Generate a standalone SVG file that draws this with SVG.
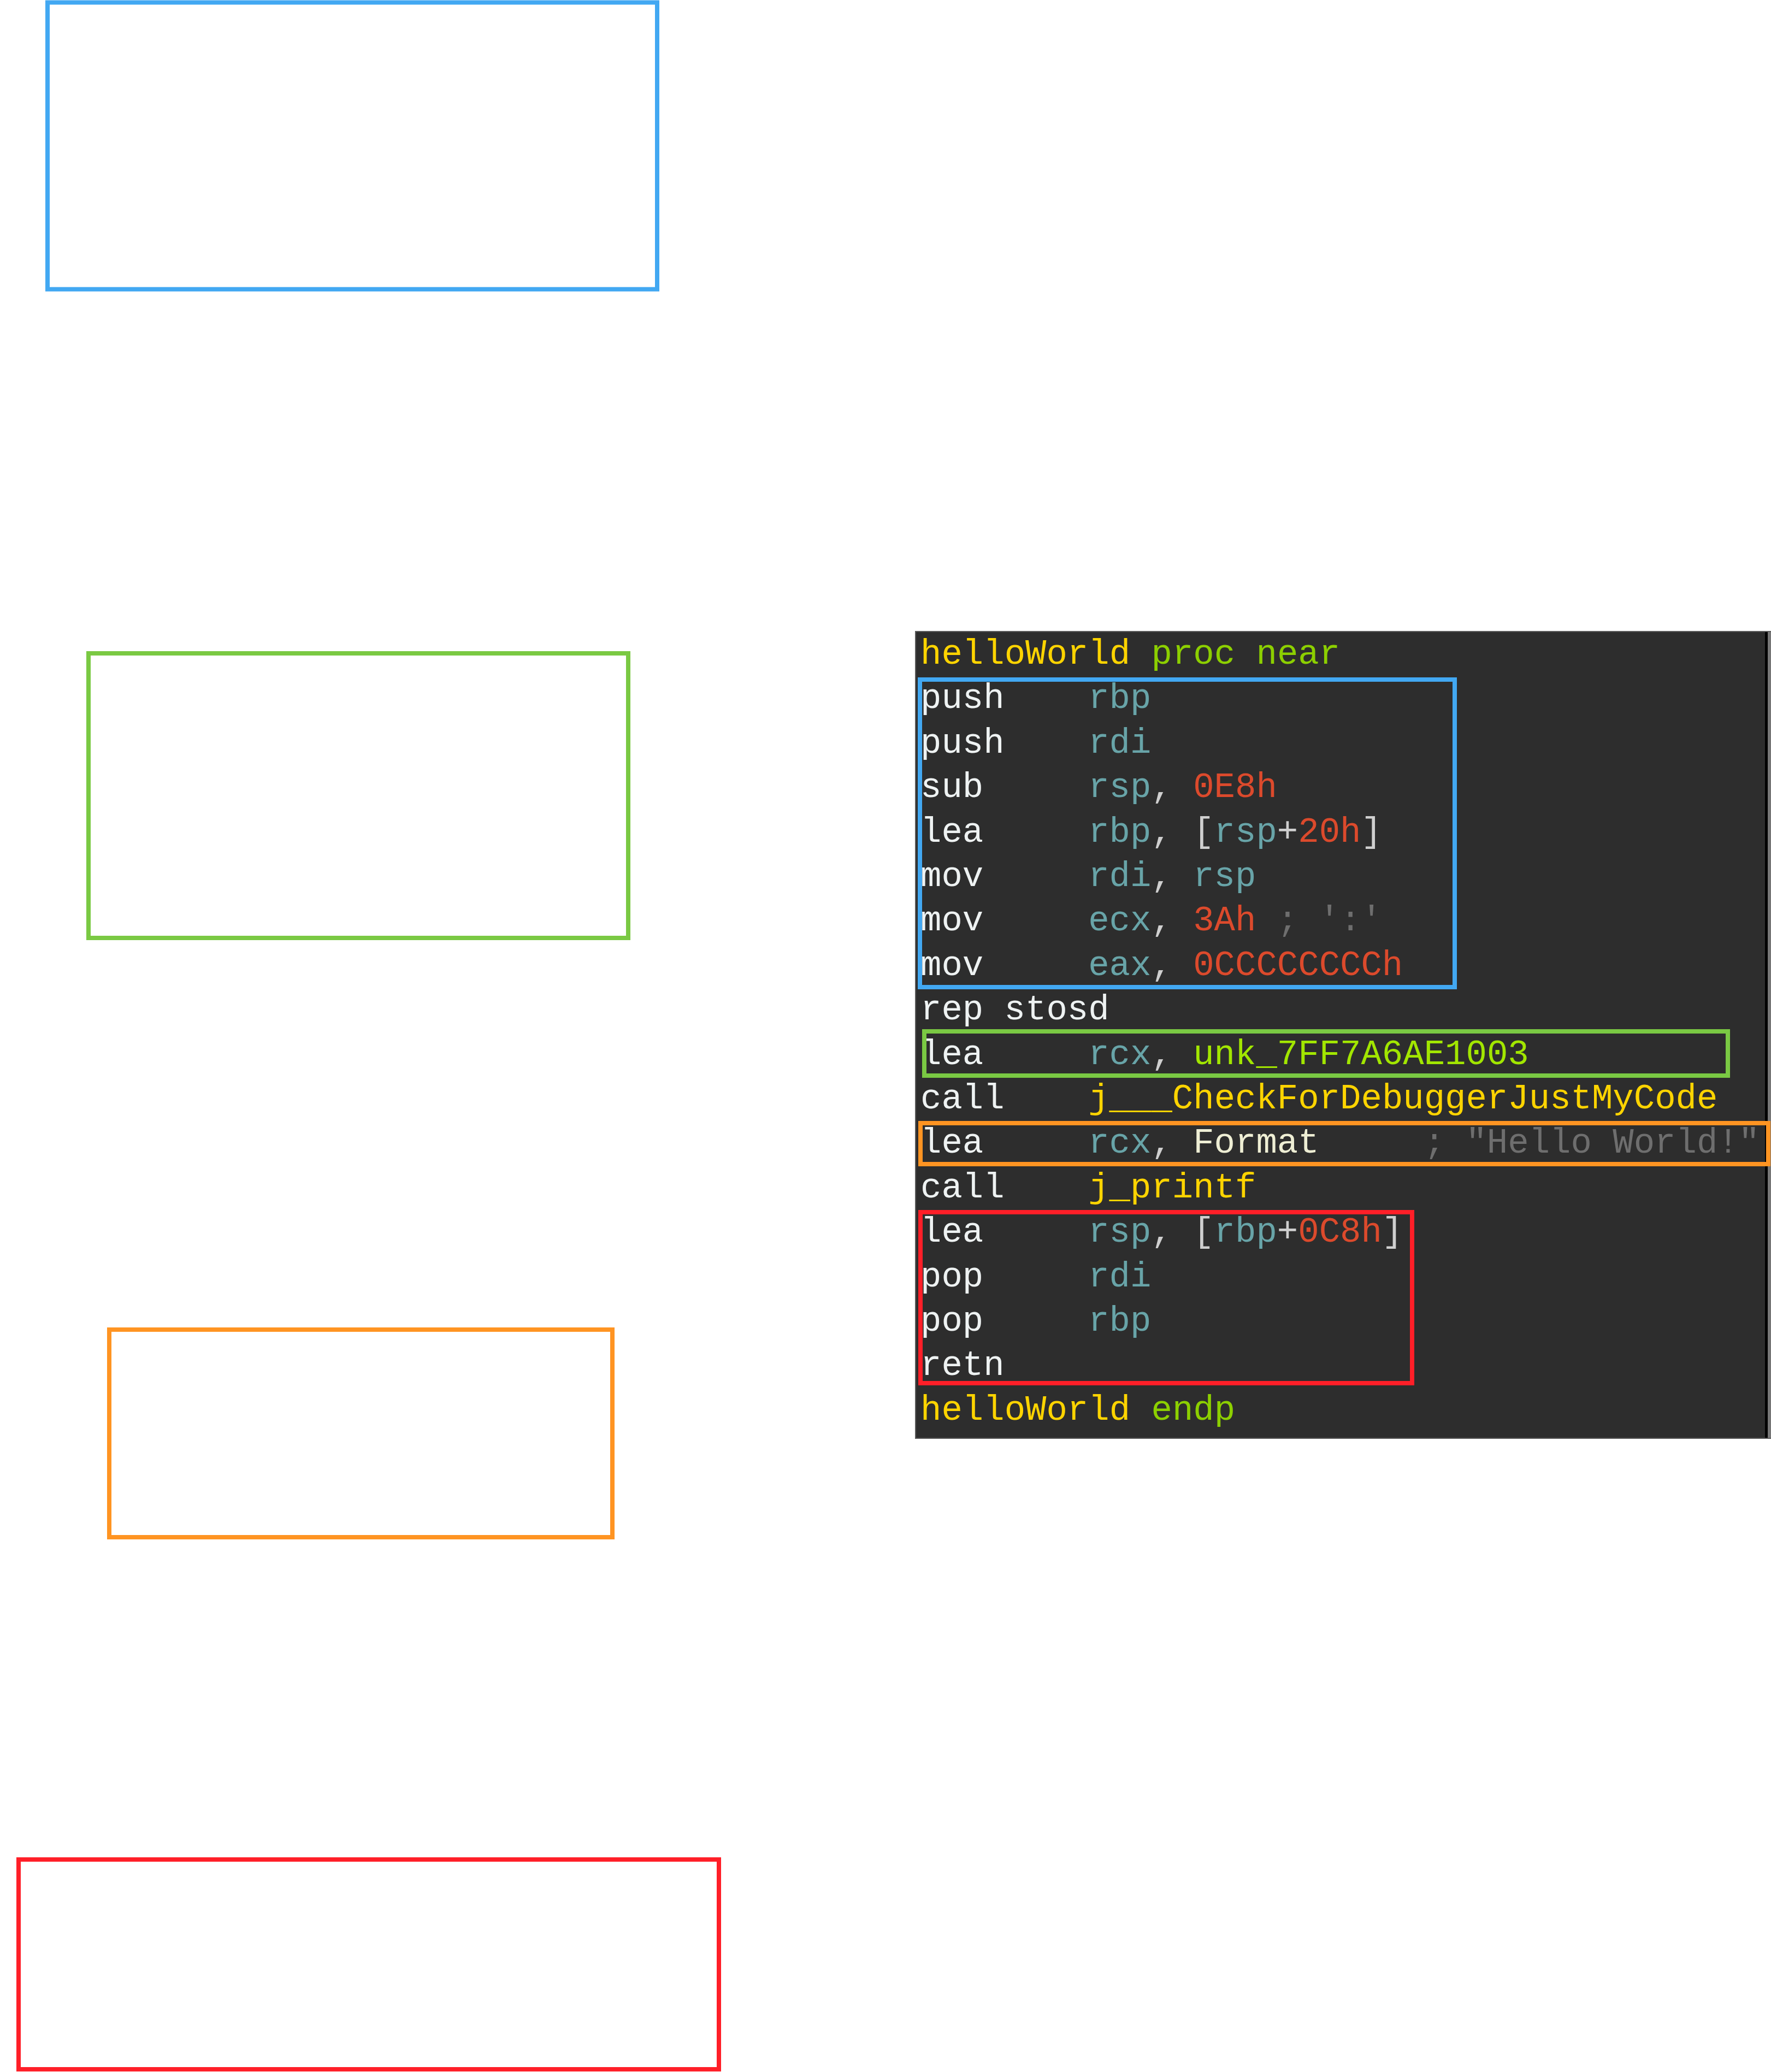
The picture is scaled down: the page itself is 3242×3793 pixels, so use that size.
<svg xmlns="http://www.w3.org/2000/svg" width="3242" height="3793" viewBox="0 0 3242 3793">
<style>
.box{fill:none;stroke-width:8}
.b{stroke:#42a8f2}.g{stroke:#7ac943}.o{stroke:#ff9422}.r{stroke:#ff1f28}
text{font-family:"Liberation Mono","DejaVu Sans Mono",monospace;font-size:64px;white-space:pre}
.mn{fill:#eef2f2}.rg{fill:#68a4a8}.nm{fill:#dc4a2c}.pu{fill:#cfcfcf}.cm{fill:#6e6e6e}
.fn{fill:#ffd400}.kw{fill:#8ccf00}.lb{fill:#a2e600}.fm{fill:#eeeed4}
</style>
<rect width="3242" height="3793" fill="#ffffff"/>
<g id="box-blue"><rect class="box b" x="87" y="4.5" width="1116" height="525"/></g>
<g id="box-green"><rect class="box g" x="162" y="1196" width="988" height="521"/></g>
<g id="box-orange"><rect class="box o" x="200" y="2434" width="921" height="380"/></g>
<g id="box-red"><rect class="box r" x="34" y="3404" width="1282" height="384"/></g>
<g id="code-panel">
<rect x="1676" y="1156" width="1566" height="1477" fill="#2d2d2d" stroke="#5a5a5a" stroke-width="2"/>
<rect x="3231" y="1157" width="5" height="1475" fill="#000000"/>
<rect x="3236" y="1157" width="6" height="1475" fill="#777777"/>
<g id="code-text" transform="translate(-5,0)">
<text xml:space="preserve" x="1690" y="1215"><tspan class="fn">helloWorld</tspan><tspan class="kw"> proc near</tspan></text>
<text xml:space="preserve" x="1690" y="1296.4"><tspan class="mn">push    </tspan><tspan class="rg" x="1997.2">rbp</tspan></text>
<text xml:space="preserve" x="1690" y="1377.8"><tspan class="mn">push    </tspan><tspan class="rg" x="1997.2">rdi</tspan></text>
<text xml:space="preserve" x="1690" y="1459.2"><tspan class="mn">sub     </tspan><tspan class="rg" x="1997.2">rsp</tspan><tspan class="pu">, </tspan><tspan class="nm" x="2189.2">0E8h</tspan></text>
<text xml:space="preserve" x="1690" y="1540.6"><tspan class="mn">lea     </tspan><tspan class="rg" x="1997.2">rbp</tspan><tspan class="pu">, [</tspan><tspan class="rg" x="2227.6">rsp</tspan><tspan class="pu">+</tspan><tspan class="nm">20h</tspan><tspan class="pu">]</tspan></text>
<text xml:space="preserve" x="1690" y="1622"><tspan class="mn">mov     </tspan><tspan class="rg" x="1997.2">rdi</tspan><tspan class="pu">, </tspan><tspan class="rg" x="2189.2">rsp</tspan></text>
<text xml:space="preserve" x="1690" y="1703.4"><tspan class="mn">mov     </tspan><tspan class="rg" x="1997.2">ecx</tspan><tspan class="pu">, </tspan><tspan class="nm" x="2189.2">3Ah</tspan><tspan class="cm" x="2342.8">; ':'</tspan></text>
<text xml:space="preserve" x="1690" y="1784.8"><tspan class="mn">mov     </tspan><tspan class="rg" x="1997.2">eax</tspan><tspan class="pu">, </tspan><tspan class="nm" x="2189.2">0CCCCCCCCh</tspan></text>
<text xml:space="preserve" x="1690" y="1866.2"><tspan class="mn">rep</tspan><tspan class="mn" x="1843.6">stosd</tspan></text>
<text xml:space="preserve" x="1690" y="1947.6"><tspan class="mn">lea     </tspan><tspan class="rg" x="1997.2">rcx</tspan><tspan class="pu">, </tspan><tspan class="lb" x="2189.2">unk_7FF7A6AE1003</tspan></text>
<text xml:space="preserve" x="1690" y="2029"><tspan class="mn">call    </tspan><tspan class="fn" x="1997.2">j___CheckForDebuggerJustMyCode</tspan></text>
<text xml:space="preserve" x="1690" y="2110.4"><tspan class="mn">lea     </tspan><tspan class="rg" x="1997.2">rcx</tspan><tspan class="pu">, </tspan><tspan class="fm" x="2189.2">Format</tspan><tspan class="cm" x="2611.6">; "Hello World!"</tspan></text>
<text xml:space="preserve" x="1690" y="2191.8"><tspan class="mn">call    </tspan><tspan class="fn" x="1997.2">j_printf</tspan></text>
<text xml:space="preserve" x="1690" y="2273.2"><tspan class="mn">lea     </tspan><tspan class="rg" x="1997.2">rsp</tspan><tspan class="pu">, [</tspan><tspan class="rg" x="2227.6">rbp</tspan><tspan class="pu">+</tspan><tspan class="nm">0C8h</tspan><tspan class="pu">]</tspan></text>
<text xml:space="preserve" x="1690" y="2354.6"><tspan class="mn">pop     </tspan><tspan class="rg" x="1997.2">rdi</tspan></text>
<text xml:space="preserve" x="1690" y="2436"><tspan class="mn">pop     </tspan><tspan class="rg" x="1997.2">rbp</tspan></text>
<text xml:space="preserve" x="1690" y="2517.4"><tspan class="mn">retn</tspan></text>
<text xml:space="preserve" x="1690" y="2598.8"><tspan class="fn">helloWorld</tspan><tspan class="kw"> endp</tspan></text>
</g>
</g>
<g id="code-box-blue"><rect class="box b" x="1684" y="1244" width="979" height="563"/></g>
<g id="code-box-green"><rect class="box g" x="1692" y="1888" width="1471" height="81"/></g>
<g id="code-box-orange"><rect class="box o" x="1685" y="2056" width="1552" height="75"/></g>
<g id="code-box-red"><rect class="box r" x="1685" y="2219" width="900" height="313"/></g>
</svg>
